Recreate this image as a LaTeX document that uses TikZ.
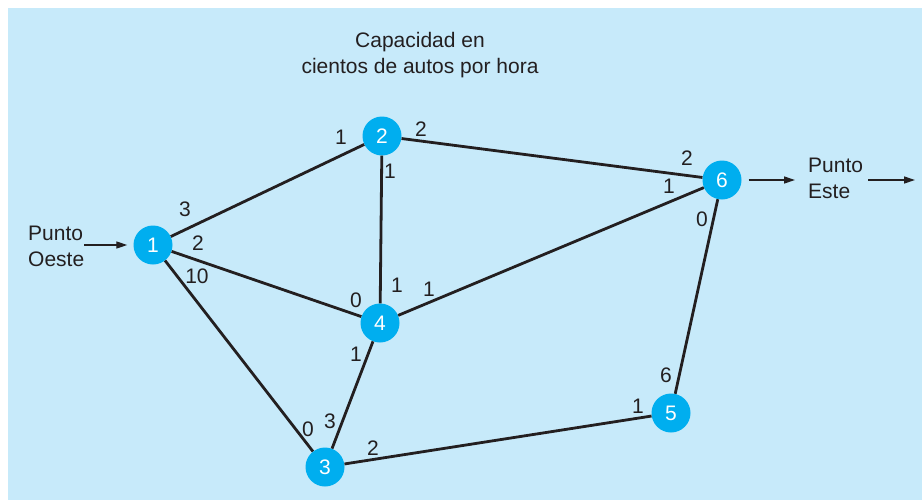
\documentclass[tikz,border=0pt]{standalone}
\usepackage{fontspec}
\setmainfont{Liberation Sans}
\usetikzlibrary{arrows.meta,positioning}
\definecolor{bgblue}{RGB}{199,234,250}
\definecolor{nodecyan}{RGB}{0,174,239}
\definecolor{inkgray}{RGB}{35,31,32}

\begin{document}
\begin{tikzpicture}[x=1pt, y=-1pt,
    font=\fontsize{21}{26}\selectfont,
    junction/.style={circle, fill=nodecyan, text=white, minimum size=39pt, inner sep=0pt},
    road/.style={draw=inkgray, line width=2.8pt},
    capnum/.style={text=inkgray, inner sep=0pt},
    flow/.style={draw=inkgray, line width=1.3pt, -{Triangle[length=11pt,width=7pt]}}
  ]
  \useasboundingbox (0,0) rectangle (922,501);
  \fill[bgblue] (8,8) rectangle (922,500);

  % junctions
  \node[junction] (n1) at (153,245) {1};
  \node[junction] (n2) at (382,136) {2};
  \node[junction] (n3) at (325,467) {3};
  \node[junction] (n4) at (380,323) {4};
  \node[junction] (n5) at (671,413) {5};
  \node[junction] (n6) at (722,180) {6};

  % roads
  \draw[road] (n1) -- (n2);
  \draw[road] (n1) -- (n4);
  \draw[road] (n1) -- (n3);
  \draw[road] (n2) -- (n4);
  \draw[road] (n2) -- (n6);
  \draw[road] (n4) -- (n6);
  \draw[road] (n4) -- (n3);
  \draw[road] (n3) -- (n5);
  \draw[road] (n5) -- (n6);

  % capacities
  \node[capnum] (c12) at (185,209) {3};
  \node[capnum] (c14) at (198,243) {2};
  \node[capnum] (c13) at (197,276) {10};
  \node[capnum] (c21) at (341,137) {1};
  \node[capnum] (c26) at (421,129) {2};
  \node[capnum] (c24) at (390,171) {1};
  \node[capnum] (c62) at (687,158) {2};
  \node[capnum] (c64) at (669,186) {1};
  \node[capnum] (c65) at (702,219) {0};
  \node[capnum] (c41) at (356,300) {0};
  \node[capnum] (c42) at (397,285) {1};
  \node[capnum] (c46) at (429,289) {1};
  \node[capnum] (c43) at (356,354) {1};
  \node[capnum] (c34) at (330,421) {3};
  \node[capnum] (c31) at (308,429) {0};
  \node[capnum] (c35) at (373,448) {2};
  \node[capnum] (c56) at (666,375) {6};
  \node[capnum] (c53) at (638,406) {1};

  % title and ends
  \node[capnum, align=center] (title) at (420,55) {Capacidad en\\cientos de autos por hora};
  \node[capnum, align=left, anchor=north west] (oeste) at (28,226) {Punto\\Oeste};
  \node[capnum, align=left, anchor=north west] (este) at (808,158) {Punto\\Este};
  \coordinate (exit) at (915,180);

  \draw[flow] (oeste.east |- n1) -- ([xshift=-6pt]n1.west);
  \draw[flow] ([xshift=7pt]n6.east) -- ([xshift=-13pt]este.west |- n6);
  \draw[flow] ([xshift=5pt]este.east |- n6) -- (exit);
\end{tikzpicture}
\end{document}
